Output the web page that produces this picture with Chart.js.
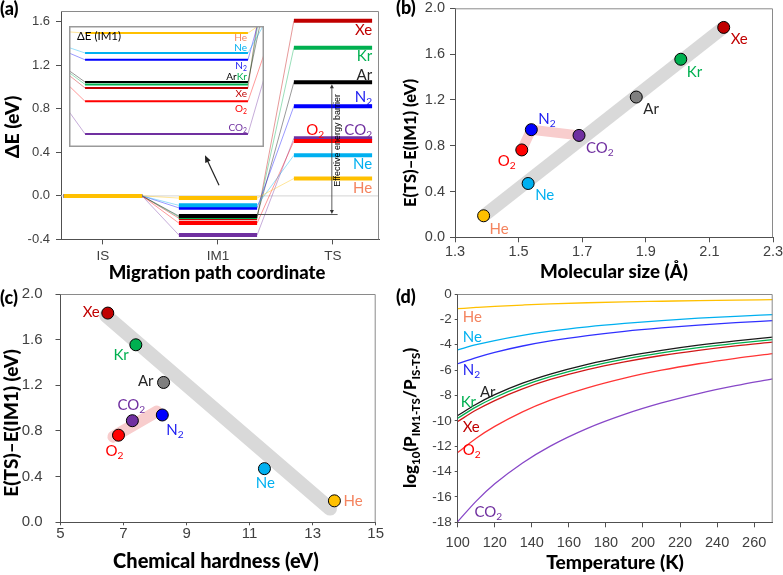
<!DOCTYPE html>
<html><head><meta charset="utf-8">
<script src="https://cdn.jsdelivr.net/npm/chart.js@4/dist/chart.umd.min.js"></script>
<style>
html,body{margin:0;padding:0;background:#fff;}
#wrap{position:relative;width:783px;height:575px;overflow:hidden;background:#fff;}
canvas{position:absolute;}
</style></head><body>
<div id="wrap">
<canvas id="ca" width="783" height="575" style="left:0;top:0"></canvas>
<canvas id="cb" width="783" height="575" style="left:0;top:0"></canvas>
<canvas id="cc" width="783" height="575" style="left:0;top:0"></canvas>
<canvas id="cd" width="783" height="575" style="left:0;top:0"></canvas>
<canvas id="ci" width="195" height="121" style="left:69px;top:26px"></canvas>
</div>
<script>
// ---------------- DATA ----------------
const species       = ['He','Ne','N2','O2','CO2','Ar','Kr','Xe'];
const speciesText   = ['He','Ne','N_2','O_2','CO_2','Ar','Kr','Xe'];
const pathStates    = ['IS','IM1','TS'];
const isEnergy      = [0, 0, 0, 0, 0, 0, 0, 0];
const im1Energy     = [-0.02, -0.087, -0.11, -0.25, -0.36, -0.185, -0.193, -0.205];
const tsEnergy      = [0.16, 0.373, 0.825, 0.504, 0.531, 1.045, 1.363, 1.61];
const barrier       = [0.188, 0.47, 0.94, 0.763, 0.89, 1.225, 1.555, 1.833];
const molecularSize = [1.39, 1.53, 1.54, 1.51, 1.69, 1.87, 2.01, 2.145];
const hardness      = [13.69, 11.47, 8.23, 6.84, 7.28, 8.27, 7.39, 6.50];
const hardTrendX    = [6.45, 13.55];
const hardTrendY    = [1.81, 0.12];
const hardPinkX     = [6.68, 8.05];
const hardPinkY     = [0.75, 0.97];
const temperatureK  = [100, 110, 120, 135, 150, 170, 190, 210, 230, 250, 270];
const logHe  = [-1.16, -1.06, -0.97, -0.87, -0.78, -0.69, -0.62, -0.57, -0.52, -0.48, -0.45];
const logNe  = [-4.40, -4.00, -3.67, -3.26, -2.93, -2.59, -2.32, -2.10, -1.91, -1.76, -1.63];
const logN2  = [-5.50, -5.01, -4.60, -4.10, -3.70, -3.28, -2.94, -2.67, -2.45, -2.26, -2.10];
const logO2  = [-12.50, -11.37, -10.44, -9.29, -8.37, -7.40, -6.63, -6.01, -5.50, -5.07, -4.70];
const logCO2 = [-17.95, -16.33, -14.97, -13.32, -11.99, -10.59, -9.49, -8.59, -7.85, -7.23, -6.70];
const logAr  = [-9.58, -8.69, -7.94, -7.03, -6.31, -5.54, -4.93, -4.44, -4.03, -3.69, -3.40];
const logKr  = [-9.80, -8.90, -8.16, -7.25, -6.52, -5.74, -5.13, -4.64, -4.23, -3.89, -3.60];
const logXe  = [-10.05, -9.15, -8.40, -7.48, -6.74, -5.96, -5.35, -4.85, -4.44, -4.09, -3.80];
const logSeries = [logHe, logNe, logN2, logO2, logCO2, logAr, logKr, logXe];
const ticksAy = [-0.4, 0, 0.4, 0.8, 1.2, 1.6];
const ticksAx = [1, 2, 3];
const ticksBx = [1.3, 1.5, 1.7, 1.9, 2.1, 2.3];
const ticksBy = [0, 0.4, 0.8, 1.2, 1.6, 2.0];
const ticksCx = [5, 7, 9, 11, 13, 15];
const ticksDx = [100, 120, 140, 160, 180, 200, 220, 240, 260];
const ticksDy = [0, -2, -4, -6, -8, -10, -12, -14, -16, -18];

// ---------------- STYLE ----------------
const lineColor  = {He:'#FFC000',Ne:'#00B0F0',N2:'#0000FF',O2:'#FF0000',CO2:'#7030A0',Ar:'#000000',Kr:'#00B050',Xe:'#C00000'};
const pointColor = {He:'#FFC000',Ne:'#00B0F0',N2:'#0000FF',O2:'#FF0000',CO2:'#7030A0',Ar:'#7F7F7F',Kr:'#00B050',Xe:'#C00000'};
const labelColor = {He:'#F4845F',Ne:'#00B0F0',N2:'#1A1AF0',O2:'#FF0000',CO2:'#7030A0',Ar:'#262626',Kr:'#00B050',Xe:'#C00000'};
const curveColor = {He:'#FFC000',Ne:'#00B0F0',N2:'#3030FF',O2:'#FF3535',CO2:'#8848C8',Ar:'#1A1A1A',Kr:'#00B050',Xe:'#D01818'};
const TICKF = "'Liberation Sans', Arial, sans-serif";
const LBLF  = "Lato, 'Open Sans', sans-serif";
const TTLF  = "Lato, 'Open Sans', sans-serif";
const TTLW  = '900';
const AXC = '#505050', FRAMEC = '#8a8a8a';
const W = 783, H = 575;
const levelHalf = 0.34;

function alpha(hex, a){ const n=parseInt(hex.slice(1),16); return `rgba(${n>>16&255},${n>>8&255},${n&255},${a})`; }

function richParts(str){
  const parts=[]; const re=/_\{([^}]*)\}|_(.)/g; let last=0, m;
  while((m=re.exec(str))){ if(m.index>last) parts.push({t:str.slice(last,m.index),sub:false}); parts.push({t:m[1]!==undefined?m[1]:m[2],sub:true}); last=re.lastIndex; }
  if(last<str.length) parts.push({t:str.slice(last),sub:false});
  return parts;
}
function drawRich(ctx, str, x, y, o){
  const size=o.size, fam=o.family||LBLF, wt=o.weight||'normal';
  ctx.save(); ctx.translate(x,y); if(o.rotate) ctx.rotate(o.rotate);
  const parts=richParts(str); const ss=size*0.68;
  let w=0; parts.forEach(p=>{ ctx.font=`${wt} ${p.sub?ss:size}px ${fam}`; p.w=ctx.measureText(p.t).width; w+=p.w; });
  let cx = o.align==='right' ? -w : (o.align==='center' ? -w/2 : 0);
  ctx.fillStyle=o.color||'#000'; ctx.textBaseline='middle'; ctx.textAlign='left';
  parts.forEach(p=>{ ctx.font=`${wt} ${p.sub?ss:size}px ${fam}`; ctx.fillText(p.t, cx, p.sub? size*0.32 : 0); cx+=p.w; });
  ctx.restore(); return w;
}
function arrow(ctx, x1,y1,x2,y2, hl, hw, color, lw){
  ctx.save(); ctx.strokeStyle=color; ctx.fillStyle=color; ctx.lineWidth=lw;
  const ang=Math.atan2(y2-y1,x2-x1);
  ctx.beginPath(); ctx.moveTo(x1,y1); ctx.lineTo(x2-Math.cos(ang)*hl*0.8, y2-Math.sin(ang)*hl*0.8); ctx.stroke();
  ctx.beginPath(); ctx.moveTo(x2,y2);
  ctx.lineTo(x2-Math.cos(ang)*hl+Math.sin(ang)*hw, y2-Math.sin(ang)*hl-Math.cos(ang)*hw);
  ctx.lineTo(x2-Math.cos(ang)*hl-Math.sin(ang)*hw, y2-Math.sin(ang)*hl+Math.cos(ang)*hw);
  ctx.closePath(); ctx.fill(); ctx.restore();
}
function frame(chart){
  const {ctx, chartArea:a}=chart; ctx.save(); ctx.strokeStyle=FRAMEC; ctx.lineWidth=1;
  ctx.beginPath(); ctx.moveTo(a.left, a.top+0.5); ctx.lineTo(a.right-0.5, a.top+0.5); ctx.lineTo(a.right-0.5, a.bottom); ctx.stroke(); ctx.restore();
}
function axis(ticksArr, fmt, fontSize, tl, pad, min, max){
  return {
    type:'linear', min, max,
    afterBuildTicks: s => { s.ticks = ticksArr.map(v=>({value:v})); },
    ticks:{ font:{family:TICKF, size:fontSize}, color:'#404040', padding:pad, autoSkip:false, maxRotation:0, callback:(v,i)=>fmt(v,i) },
    grid:{ display:true, drawOnChartArea:false, drawTicks:true, tickLength:tl, color:AXC, lineWidth:1 },
    border:{ display:true, color:AXC, width:1 }
  };
}
function makeChart(id, area, xAx, yAx, datasets, plugin){
  xAx.afterFit = s => { s.height = H - area.bottom; s.paddingLeft = 0; s.paddingRight = 0; };
  yAx.afterFit = s => { s.width = area.left; s.paddingTop = 0; s.paddingBottom = 0; };
  return new Chart(document.getElementById(id), {
    type:'scatter',
    data:{ datasets },
    options:{
      responsive:false, animation:false, devicePixelRatio:1, events:[],
      layout:{ padding:{ left:0, top:area.top, right:W-area.right, bottom:0 } },
      plugins:{ legend:{display:false}, tooltip:{enabled:false} },
      scales:{ x:xAx, y:yAx }
    },
    plugins:[plugin]
  });
}
function title(ctx, text, x, y, size, rot){ drawRich(ctx, text, x, y, {size, family:TTLF, weight:TTLW, color:'#000', align:'center', rotate:rot}); }
function panelTag(ctx, t, x, y){ drawRich(ctx, t, x, y, {size:18, family:TTLF, weight:TTLW, color:'#000'}); }

// ---------------- PANEL (a) ----------------
function pathPoints(i){
  const lv=[isEnergy[i], im1Energy[i], tsEnergy[i]]; const pts=[];
  lv.forEach((e,k)=>{ pts.push({x:ticksAx[k]-levelHalf, y:e}); pts.push({x:ticksAx[k]+levelHalf, y:e}); });
  return pts;
}
function pathDatasets(levelW){
  return species.map((s,i)=>({
    data: pathPoints(i), showLine:true, pointRadius:0, borderColor:lineColor[s], borderWidth:levelW,
    segment:{ borderWidth: c => c.p0DataIndex%2===0 ? levelW : 1, borderColor: c => c.p0DataIndex%2===0 ? lineColor[s] : alpha(lineColor[s],0.4) }
  }));
}
const tsLabelLayout = {Xe:{dy:9},Kr:{dy:9},Ar:{dy:-7},N2:{dy:-9},CO2:{dy:-8},O2:{dy:-11,dx:-48},Ne:{dy:8.5},He:{dy:9.5}};
const areaA = {left:61, top:11, right:379, bottom:239.4};
makeChart('ca', areaA,
  axis(ticksAx, (v,i)=>pathStates[i], 13.5, 5, 4, 0.635, 3.4),
  axis(ticksAy, v=>v.toFixed(1), 13, 5, 6, -0.4, 1.7),
  pathDatasets(4),
  { id:'decoA',
    beforeDatasetsDraw(chart){
      const {ctx, chartArea:a, scales:{y}}=chart; const y0=y.getPixelForValue(0);
      ctx.save(); ctx.strokeStyle='#d4d4d4'; ctx.lineWidth=1; ctx.beginPath(); ctx.moveTo(a.left,y0); ctx.lineTo(a.right,y0); ctx.stroke(); ctx.restore();
    },
    afterDraw(chart){
      const {ctx, chartArea:a, scales:{x,y}}=chart; frame(chart);
      const xr = x.getPixelForValue(3+levelHalf);
      species.forEach((s,i)=>{
        const L=tsLabelLayout[s]; const yy=y.getPixelForValue(tsEnergy[i]) + L.dy;
        drawRich(ctx, speciesText[i], xr + (L.dx||0), yy, {size:15, color:labelColor[s], align:'right'});
      });
      // effective barrier
      const iAr = species.indexOf('Ar');
      const bx = x.getPixelForValue(2.99);
      const yt = y.getPixelForValue(tsEnergy[iAr])+2, yb = y.getPixelForValue(im1Energy[iAr])-2;
      ctx.save(); ctx.strokeStyle='#555'; ctx.lineWidth=1; ctx.beginPath();
      ctx.moveTo(x.getPixelForValue(2+levelHalf), yb+0.5); ctx.lineTo(x.getPixelForValue(3.04), yb+0.5); ctx.stroke(); ctx.restore();
      arrow(ctx, bx, (yt+yb)/2, bx, yt, 4, 2, '#333', 0.8);
      arrow(ctx, bx, (yt+yb)/2, bx, yb, 4, 2, '#333', 0.8);
      ctx.save(); ctx.translate(x.getPixelForValue(3.035), y.getPixelForValue(0.51)); ctx.rotate(-Math.PI/2);
      ctx.font=`9px ${TICKF}`; ctx.fillStyle='#000'; ctx.textAlign='center'; ctx.textBaseline='middle';
      ctx.fillText('Effective energy barrier',0,0); ctx.restore();
      // arrow to inset
      arrow(ctx, x.getPixelForValue(2.009), y.getPixelForValue(0.098), x.getPixelForValue(1.887), y.getPixelForValue(0.373), 7, 3, '#222', 1.2);
      title(ctx, 'Migration path coordinate', 217, 273, 18.5);
      title(ctx, 'ΔE (eV)', 12.5, 127, 19.5, -Math.PI/2);
      panelTag(ctx, '(a)', 0, 9);
    }
  });

// ---------------- INSET ----------------
const insetLabel = {He:{dy:5},Ne:{dy:-5},N2:{dy:6},Xe:{dy:5.5},O2:{dy:7},CO2:{dy:-6}};
new Chart(document.getElementById('ci'), {
  type:'scatter',
  data:{ datasets: pathDatasets(2) },
  options:{
    responsive:false, animation:false, devicePixelRatio:1, events:[],
    layout:{padding:0},
    plugins:{legend:{display:false}, tooltip:{enabled:false}},
    scales:{ x:{type:'linear', min:1.593, max:2.407, display:false}, y:{type:'linear', min:-0.404, max:0.004, display:false} }
  },
  plugins:[{ id:'decoI',
    beforeDraw(chart){ const c=chart.ctx; c.save(); c.fillStyle='#fff'; c.fillRect(0,0,chart.width,chart.height); c.restore(); },
    afterDraw(chart){
      const {ctx, scales:{x,y}}=chart; const xr=x.getPixelForValue(2+levelHalf)-1;
      species.forEach((s,i)=>{
        const L=insetLabel[s]; if(!L) return;
        drawRich(ctx, speciesText[i], xr, y.getPixelForValue(im1Energy[i])+L.dy, {size:10, color:labelColor[s], align:'right'});
      });
      const yAr=y.getPixelForValue(im1Energy[species.indexOf('Ar')])-5;
      const wk=drawRich(ctx, 'Kr', xr, yAr, {size:10, color:labelColor.Kr, align:'right'});
      drawRich(ctx, 'Ar', xr-wk, yAr, {size:10, color:'#000', align:'right'});
      drawRich(ctx, 'ΔE (IM1)', 8, 10, {size:11.5, color:'#000', align:'left'});
      ctx.save(); ctx.strokeStyle='#9a9a9a'; ctx.lineWidth=1.5; ctx.strokeRect(0.75,0.75,chart.width-1.5,chart.height-1.5); ctx.restore();
    }
  }]
});

// ---------------- PANEL (b) ----------------
const bLabel = {He:{dx:6,dy:13,al:'left'},Ne:{dx:7,dy:12,al:'left'},Xe:{dx:7,dy:12,al:'left'},Kr:{dx:6,dy:13,al:'left'},Ar:{dx:7,dy:12,al:'left'},CO2:{dx:7,dy:13,al:'left'},N2:{dx:7,dy:-11,al:'left'},O2:{dx:-6,dy:11,al:'right'}};
const cLabel = {Xe:{dx:-8,dy:-1,al:'right'},Kr:{dx:-7,dy:10,al:'right'},Ar:{dx:-10,dy:-1,al:'right'},CO2:{dx:-1,dy:-16,al:'center'},N2:{dx:4,dy:15,al:'left'},O2:{dx:-4,dy:16,al:'center'},Ne:{dx:1,dy:15,al:'center'},He:{dx:9,dy:0,al:'left'}};
function pointDataset(xs){
  return { data: species.map((s,i)=>({x:xs[i], y:barrier[i]})), pointRadius:6, pointBackgroundColor:species.map(s=>pointColor[s]), pointBorderColor:'#000', pointBorderWidth:1 };
}
function pointLabels(chart, xs, layout){
  const {ctx, scales:{x,y}}=chart;
  species.forEach((s,i)=>{ const L=layout[s];
    drawRich(ctx, speciesText[i], x.getPixelForValue(xs[i])+L.dx, y.getPixelForValue(barrier[i])+L.dy, {size:15, color:labelColor[s], align:L.al}); });
}
const idx = s => species.indexOf(s);
const areaB = {left:455, top:8.3, right:773, bottom:237.3};
makeChart('cb', areaB,
  axis(ticksBx, v=>v.toFixed(1), 14.5, 5, 1, 1.3, 2.3),
  axis(ticksBy, v=>v.toFixed(1), 14.5, 5, 5, 0, 2.0),
  [ pointDataset(molecularSize),
    { data:['O2','N2','CO2'].map(s=>({x:molecularSize[idx(s)], y:barrier[idx(s)]})), showLine:true, pointRadius:0, borderColor:'#F8CDCD', borderWidth:10, borderJoinStyle:'round' },
    { data:['He','Xe'].map(s=>({x:molecularSize[idx(s)], y:barrier[idx(s)]})), showLine:true, pointRadius:0, borderColor:'#D9D9D9', borderWidth:13 } ],
  { id:'decoB', afterDraw(chart){
      frame(chart); pointLabels(chart, molecularSize, bLabel);
      const ctx=chart.ctx;
      title(ctx, 'Molecular size (Å)', 614, 272, 18.7);
      title(ctx, 'E(TS)–E(IM1) (eV)', 410.5, 143, 16.5, -Math.PI/2);
      panelTag(ctx, '(b)', 396, 8);
  }});

// ---------------- PANEL (c) ----------------
const areaC = {left:60.5, top:294, right:375.7, bottom:522.3};
makeChart('cc', areaC,
  axis(ticksCx, v=>String(v), 15, 3, 0, 5, 15),
  axis(ticksBy, v=>v.toFixed(1), 15, 5, 13, 0, 2.0),
  [ pointDataset(hardness),
    { data: hardPinkX.map((v,i)=>({x:v, y:hardPinkY[i]})), showLine:true, pointRadius:0, borderColor:'#F8CDCD', borderWidth:12, borderCapStyle:'round' },
    { data: hardTrendX.map((v,i)=>({x:v, y:hardTrendY[i]})), showLine:true, pointRadius:0, borderColor:'#D9D9D9', borderWidth:14, borderCapStyle:'round' } ],
  { id:'decoC', afterDraw(chart){
      frame(chart); pointLabels(chart, hardness, cLabel);
      const ctx=chart.ctx;
      title(ctx, 'Chemical hardness (eV)', 216, 562, 20);
      title(ctx, 'E(TS)–E(IM1) (eV)', 11.5, 423, 19, -Math.PI/2);
      panelTag(ctx, '(c)', 0, 298);
  }});

// ---------------- PANEL (d) ----------------
const dLabelPos = {He:[102.7,-1.79],Ne:[102.7,-3.37],N2:[102.7,-6.0],Ar:[112,-7.74],Kr:[101.6,-8.5],Xe:[102.7,-10.48],O2:[102.7,-12.3],CO2:[109,-17.2]};
const areaD = {left:457.7, top:294, right:772.7, bottom:522.3};
makeChart('cd', areaD,
  axis(ticksDx, v=>String(v), 14.5, 5, 7, 100, 270),
  axis(ticksDy, v=>String(v), 13.5, 3, 3, -18, 0),
  species.map((s,i)=>({ data: temperatureK.map((t,k)=>({x:t, y:logSeries[i][k]})), showLine:true, pointRadius:0, borderColor:curveColor[s], borderWidth:1.3, cubicInterpolationMode:'monotone' })),
  { id:'decoD', afterDraw(chart){
      frame(chart);
      const {ctx, scales:{x,y}}=chart;
      species.forEach((s,i)=>{ const p=dLabelPos[s];
        drawRich(ctx, speciesText[i], x.getPixelForValue(p[0]), y.getPixelForValue(p[1]), {size:15, color:labelColor[s], align:'left'}); });
      title(ctx, 'Temperature (K)', 615, 563, 19.2);
      title(ctx, 'log_{10}(P_{IM1-TS}/P_{IS-TS})', 411, 418, 17, -Math.PI/2);
      panelTag(ctx, '(d)', 396, 297);
  }});
</script>
</body></html>
